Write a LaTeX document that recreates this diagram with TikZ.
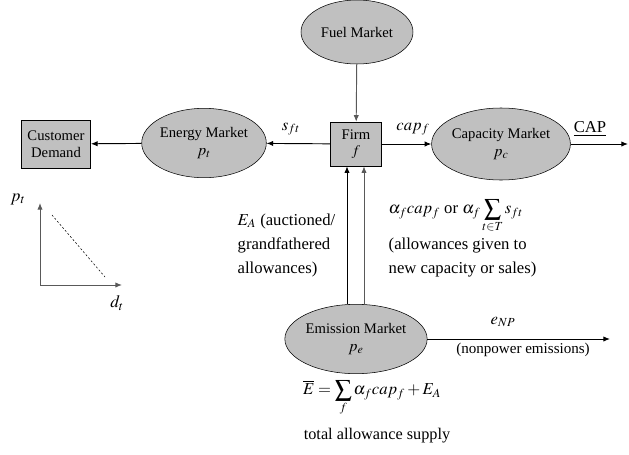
\documentclass[tikz,border=0pt]{standalone}
\usepackage{mathptmx}
\usepackage{fontspec}
\setmainfont{Liberation Serif}
\usetikzlibrary{arrows.meta,calc,shapes.geometric}
\definecolor{mktgray}{RGB}{192,192,192}
\tikzset{
  market/.style={ellipse,draw,fill=mktgray,inner sep=0pt,align=center,
    minimum width=86pt,minimum height=52pt},
  agent/.style={rectangle,draw,fill=mktgray,inner sep=0pt,align=center},
  flow/.style={-{Latex[length=5pt,width=4pt]},line width=0.7pt},
  mathlbl/.style={font=\fontsize{12.5}{14}\selectfont},
  notes/.style={align=left,font=\fontsize{12.5}{18}\selectfont}
}
\begin{document}
\begin{tikzpicture}[x=0.75pt,y=-0.75pt,font=\fontsize{11}{13}\selectfont]
	\useasboundingbox (0,0) rectangle (629,454);
	% markets and agents
	\node[market,minimum width=84pt,minimum height=48pt] (fuel) at (357,32) {Fuel Market};
	\node[agent,minimum width=38pt,minimum height=33pt] (firm) at (356,144) {Firm\\[-1pt]$f$};
	\node[market,minimum height=54pt] (capmkt) at (501,144) {Capacity Market\\{\large$p_c$}};
	\node[market] (energy) at (204,143) {Energy Market\\{\large$p_t$}};
	\node[agent,minimum width=52pt,minimum height=36pt] (cust) at (56,144) {Customer\\Demand};
	\node[market] (emis) at (356,339) {Emission Market\\{\large$p_e$}};
	\coordinate (capend) at (628,144);
	\coordinate (npend) at (610,339);
	% flows
	\draw[flow,gray!70!black] (fuel) -- (firm);
	\draw[flow] (firm) -- (energy);
	\draw[flow] (energy) -- (cust);
	\draw[flow] (firm) -- (capmkt);
	\draw[flow] (capmkt) -- (capend);
	\draw[flow] ($(emis.north)+(-9,0)$) -- ($(firm.south)+(-9,0)$);
	\draw[flow,gray!70!black] ($(emis.north)+(8,0)$) -- ($(firm.south)+(8,0)$);
	\draw[flow] (emis) -- (npend);
	% labels
	\node[mathlbl] (sft) at (291,129) {$s_{ft}$};
	\node[mathlbl] (capf) at (413,129) {$cap_f$};
	\node[font=\fontsize{12.5}{14}\selectfont] (caplbl) at (590,129) {\underline{CAP}};
	\node[mathlbl] (enp) at (503,322) {$e_{NP}$};
	\node[font=\fontsize{11.3}{13}\selectfont] (nonpower) at (523,350) {(nonpower emissions)};
	\node[notes,anchor=west] (auction) at (233,245) {$E_A$ (auctioned/\\grandfathered\\allowances)};
	\node[mathlbl,anchor=west] (alloc) at (384,216) {$\alpha_f cap_f$ or $\displaystyle\alpha_f\sum_{t\in T}s_{ft}$};
	\node[notes,anchor=west] (allocnote) at (384,258) {(allowances given to\\new capacity or sales)};
	\node[mathlbl] (supply) at (372,398) {$\displaystyle\overline{E}=\sum_f\alpha_f cap_f+E_A$};
	\node[font=\fontsize{12.2}{14}\selectfont] (supplytxt) at (377,436) {total allowance supply};
	% demand curve
	\coordinate (orig) at (40,285);
	\coordinate (ptop) at (40,203);
	\coordinate (dend) at (122,285);
	\coordinate (dhigh) at (52,215);
	\coordinate (dlow) at (105,277);
	\draw[flow,gray!70!black] (orig) -- (ptop);
	\draw[flow,gray!70!black] (orig) -- (dend);
	\draw[dash pattern=on 1.5pt off 1.5pt] (dhigh) -- (dlow);
	\node[font=\fontsize{13}{15}\selectfont] (ptlbl) at (18,199) {$p_t$};
	\node[font=\fontsize{13}{15}\selectfont] (dtlbl) at (117,303) {$d_t$};
\end{tikzpicture}
\end{document}
